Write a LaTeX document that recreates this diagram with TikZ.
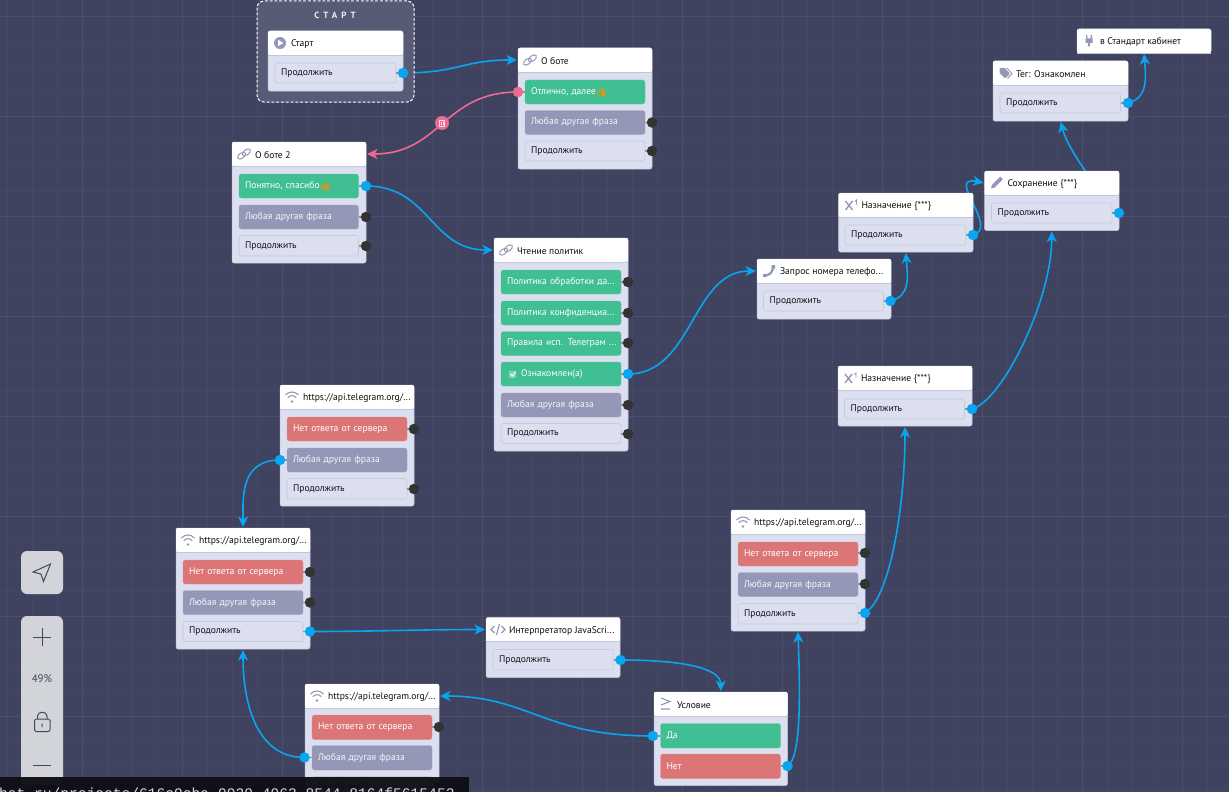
\documentclass[tikz,border=0pt]{standalone}
\usepackage{fontspec}
\setmainfont{PT Sans}
\newfontfamily\emofont[FakeBold=3]{Noto Emoji}
\newfontfamily\barfont{Liberation Mono}
\usetikzlibrary{arrows.meta,shapes.geometric,backgrounds}
\pgfdeclarelayer{gridlayer}\pgfdeclarelayer{conn}\pgfdeclarelayer{toplayer}
\pgfsetlayers{gridlayer,conn,main,toplayer}
\definecolor{bgc}{HTML}{3F4360}
\definecolor{minorc}{HTML}{444865}
\definecolor{majorc}{HTML}{4B4F6C}
\definecolor{bodyc}{HTML}{DCDFEF}
\definecolor{linec}{HTML}{C3C6DA}
\definecolor{greenc}{HTML}{3FBF92}
\definecolor{greyc}{HTML}{9497B5}
\definecolor{redc}{HTML}{DC7676}
\definecolor{bluec}{HTML}{0AA5F0}
\definecolor{pinkc}{HTML}{EE6A95}
\definecolor{icoc}{HTML}{9498B8}
\definecolor{tbc}{HTML}{D3D4D9}
\definecolor{tbdark}{HTML}{44475A}
\tikzset{
 x=1pt,y=-1pt,
 every node/.style={inner sep=0pt,outer sep=0pt},
 bodybox/.style={rectangle,fill=bodyc,draw=linec,line width=.5pt,rounded corners=2pt,anchor=north west},
 headbox/.style={rectangle,fill=white,rounded corners=2pt,anchor=north west,minimum height=24pt},
 ttl/.style={font=\fontsize{9.6}{11}\selectfont,text=black!95,anchor=west},
 anybtn/.style={rectangle,rounded corners=2.5pt,anchor=north west,inner xsep=6pt,align=left,font=\fontsize{9.6}{11}\selectfont},
 gbtn/.style={anybtn,fill=greenc,draw=greenc!85!white,text=white},
 gybtn/.style={anybtn,fill=greyc,draw=greyc!85!white,text=white!92!greyc},
 rbtn/.style={anybtn,fill=redc,draw=redc!85!white,text=white},
 wbtn/.style={anybtn,fill=bodyc,draw=linec!85!bodyc,line width=.6pt,text=black!92},
 bp/.style={circle,fill=bluec,minimum size=10.5pt},
 kp/.style={circle,fill=black!80,minimum size=10.5pt},
 pp/.style={circle,fill=pinkc,minimum size=10.5pt},
 stub/.style={draw=black!35!bodyc,line width=1.4pt},
 wire/.style={draw=bluec,line width=1.6pt,-{Stealth[length=10.5pt,width=10pt,inset=3pt]},shorten >=1pt},
 pinkwire/.style={wire,draw=pinkc},
 ico/.style={draw=icoc,line width=1.1pt,fill=none},
 tool/.style={rectangle,fill=tbc,rounded corners=6pt,anchor=north west},
 tbl/.style={draw=tbdark,line width=1pt},
}
\newcommand\blk[7]{% name,x,y,w,h,icon,title
 \node[bodybox,minimum width=#4pt,minimum height=#5pt] (#1) at (#2,#3) {};
 \node[headbox,minimum width=#4pt] (#1h) at (#2,#3) {};
 \draw[linec,line width=.7pt] (#1h.south west) -- (#1h.south east);
 \begin{scope}[shift={(#2+12,#3+12)}]#6\end{scope}
 \node[ttl] (#1t) at ([xshift=23pt,yshift=-1.2pt]#1h.west) {#7};
}
\newcommand\btn[7]{% name,x,y,w,h,style,text
 \node[#6,text width=#4pt-12pt,minimum height=#5pt] (#1) at (#2,#3) {\raisebox{-1.2pt}{#7}};
}
\newcommand\portR[4]{\draw[stub] (#2-7,#3) -- (#2,#3); \node[#4] (#1) at (#2,#3) {};}
\newcommand\portL[4]{\draw[stub] (#2,#3) -- (#2+7,#3); \node[#4] (#1) at (#2,#3) {};}
\newcommand\emo{\textcolor{orange!90!yellow}{\emofont\fontsize{8.5}{9}\selectfont 👍}}
% icons
\newcommand\icoLink{\draw[ico,line width=1pt,rotate=35] (-3,0) ellipse (4.6 and 2.6); \draw[ico,line width=1pt,rotate=35] (3,0) ellipse (4.6 and 2.6);}
\newcommand\icoPlay{\fill[icoc] (0,0) circle (6); \fill[white] (-2,-3.2) -- (3.4,0) -- (-2,3.2) -- cycle;}
\newcommand\icoWifi{\draw[ico] (-6.5,-2) .. controls (-3,-6) and (3,-6) .. (6.5,-2); \draw[ico] (-4.2,0.6) .. controls (-2,-2) and (2,-2) .. (4.2,0.6); \fill[icoc] (0,4.5) circle (1.3);}
\newcommand\icoPhone{\draw[icoc,line width=2.2pt,line cap=round] (4,-4.5) .. controls (4,1) and (1,4) .. (-4,4.5); \fill[icoc] (2.5,-6) rectangle (6,-2.5) (-6,3) rectangle (-2.5,6);}
\newcommand\icoX{\draw[ico,line width=1.4pt] (-5,-4) -- (2,5) (2,-4) -- (-5,5); \draw[ico,line width=.9pt] (4.5,-3.5) -- (6,-5) -- (6,-0.5);}
\newcommand\icoPen{\draw[icoc,line width=3.6pt] (5,-5) -- (-3,3); \fill[icoc] (-4.5,1.5) -- (-1.5,4.5) -- (-5.5,5.5) -- cycle;}
\newcommand\icoTag{\fill[icoc,rounded corners=1pt] (-5.5,-5) -- (0,-5) -- (5,1) -- (0,5.5) -- (-5.5,0) -- cycle; \draw[icoc,line width=.9pt] (2,-5) -- (7,1) -- (2.5,5.5);}
\newcommand\icoPlug{\fill[icoc] (-3.5,-2.5) rectangle (3.5,2) (-1,2) rectangle (1,5.5) (-3,-6) rectangle (-1.6,-2.5) (1.6,-6) rectangle (3,-2.5);}
\newcommand\icoCode{\draw[ico] (-3.5,-3.5) -- (-7,0) -- (-3.5,3.5) (3.5,-3.5) -- (7,0) -- (3.5,3.5) (1.5,-5.5) -- (-1.5,5.5);}
\newcommand\icoGe{\draw[ico] (-5,-6) -- (4,-2.5) -- (-5,1) (-5,5) -- (4,5);}
\begin{document}
\begin{tikzpicture}
\useasboundingbox (0,0) rectangle (1229,792);
\begin{pgfonlayer}{gridlayer}
 \fill[bgc] (0,0) rectangle (1229,792);
 \foreach \i in {0,...,49}{\draw[minorc,line width=.6pt] (7.7+25*\i,0) -- (7.7+25*\i,792);}
 \foreach \i in {0,...,32}{\draw[minorc,line width=.6pt] (0,16.3+25*\i) -- (1229,16.3+25*\i);}
 \foreach \i in {0,...,11}{\draw[majorc,line width=.7pt] (82.7+100*\i,0) -- (82.7+100*\i,792);}
 \foreach \i in {0,...,7}{\draw[majorc,line width=.7pt] (0,16.3+100*\i) -- (1229,16.3+100*\i);}
\end{pgfonlayer}
% start group
\node[rectangle,rounded corners=7pt,fill=white!13!bgc,draw=white,dash pattern=on 3pt off 1.8pt,line width=1pt,anchor=north west,minimum width=157pt,minimum height=101pt] (grp) at (257,1) {};
\node[font=\fontsize{9}{10}\selectfont\bfseries\addfontfeature{LetterSpace=45},text=white!92!bgc] (grpt) at (335,15.5) {СТАРТ};
% blocks
\blk{st}{268}{31}{135}{60}{\icoPlay}{Старт}
\btn{stb}{275}{63}{121}{20}{wbtn}{Продолжить}
\portR{stp}{403}{73}{bp}

\blk{ob}{518}{48}{134}{121}{\icoLink}{О боте}
\btn{ob1}{525}{80}{120}{24}{gbtn}{Отлично, далее\emo}
\btn{ob2}{525}{110.5}{120}{24}{gybtn}{Любая другая фраза}
\btn{ob3}{525}{141}{120}{20}{wbtn}{Продолжить}
\portL{obp1}{518}{92}{pp}
\portR{obp2}{652}{122.5}{kp}
\portR{obp3}{652}{151}{kp}

\blk{oc}{232}{142}{134}{121}{\icoLink}{О боте 2}
\btn{oc1}{239}{174}{119.5}{24}{gbtn}{Понятно, спасибо\emo}
\btn{oc2}{239}{205}{119.5}{24}{gybtn}{Любая другая фраза}
\btn{oc3}{239}{235.5}{119.5}{20.5}{wbtn}{Продолжить}
\portR{ocp1}{366}{186}{bp}
\portR{ocp2}{366}{217}{kp}
\portR{ocp3}{366}{246}{kp}

\blk{ch}{494}{238}{134}{213}{\icoLink}{Чтение политик}
\btn{ch1}{501}{270}{120}{24}{gbtn}{Политика обработки да...}
\btn{ch2}{501}{301}{120}{24}{gbtn}{Политика конфиденциа...}
\btn{ch3}{501}{331.5}{120}{24}{gbtn}{Правила исп. Телеграм ...}
\btn{ch4}{501}{362}{120}{24}{gbtn}{\hspace*{14pt}Ознакомлен(а)}
\btn{ch5}{501}{393}{120}{24}{gybtn}{Любая другая фраза}
\btn{ch6}{501}{423.5}{120}{20}{wbtn}{Продолжить}
\node[rectangle,fill=white!35!greenc,minimum size=7pt] (chk) at (512.5,374) {};
\draw[white,line width=.9pt] (chk.west) ++(1.5,0) -- ++(2,2) -- ++(3,-4);
\portR{chp1}{628}{282}{kp}
\portR{chp2}{628}{313}{kp}
\portR{chp3}{628}{343}{kp}
\portR{chp4}{628}{374}{bp}
\portR{chp5}{628}{405}{kp}
\portR{chp6}{628}{434}{kp}

\blk{zp}{757}{259}{134}{60}{\icoPhone}{Запрос номера телефо...}
\btn{zpb}{763.5}{291}{120}{20}{wbtn}{Продолжить}
\portR{zpp}{890.5}{301}{bp}

\blk{na}{838.5}{193}{134.5}{59}{\icoX}{Назначение \{***\}}
\btn{nab}{845}{225}{121}{20}{wbtn}{Продолжить}
\portR{nap}{973}{235}{bp}

\blk{sv}{984.5}{171}{134.5}{59.5}{\icoPen}{Сохранение \{***\}}
\btn{svb}{991.5}{203}{120.5}{20}{wbtn}{Продолжить}
\portR{svp}{1119}{213}{bp}

\blk{tg}{993}{61}{135}{60}{\icoTag}{Тег: Ознакомлен}
\btn{tgb}{1000}{93}{120.5}{20}{wbtn}{Продолжить}
\portR{tgp}{1128}{103}{bp}

\blk{kb}{1077}{29}{134}{24}{\icoPlug}{в Стандарт кабинет}

\blk{nb}{838}{366}{134}{60}{\icoX}{Назначение \{***\}}
\btn{nbb}{844.5}{399}{120}{20}{wbtn}{Продолжить}
\portR{nbp}{972}{409}{bp}

\blk{at}{280}{385}{134}{121}{\icoWifi}{https://api.telegram.org/...}
\btn{at1}{287}{417}{120}{24}{rbtn}{Нет ответа от сервера}
\btn{at2}{287}{448}{120}{24}{gybtn}{Любая другая фраза}
\btn{at3}{287}{478.5}{120}{20.5}{wbtn}{Продолжить}
\portR{atp1}{414}{429}{kp}
\portL{atp2}{280}{460}{bp}
\portR{atp3}{414}{489}{kp}

\blk{al}{176}{528}{134}{121}{\icoWifi}{https://api.telegram.org/...}
\btn{al1}{183}{560}{120}{24}{rbtn}{Нет ответа от сервера}
\btn{al2}{183}{590.5}{120}{24}{gybtn}{Любая другая фраза}
\btn{al3}{183}{621.5}{120}{20}{wbtn}{Продолжить}
\portR{alp1}{310}{572}{kp}
\portR{alp2}{310}{602.5}{kp}
\portR{alp3}{310}{631.5}{bp}

\blk{js}{486}{617.5}{134}{60}{\icoCode}{Интерпретатор JavaScri...}
\btn{jsb}{493}{649.5}{120}{20.5}{wbtn}{Продолжить}
\portR{jsp}{620.5}{660}{bp}

\blk{us}{654}{692}{133.5}{93.5}{\icoGe}{Условие}
\btn{us1}{660.5}{723.5}{120}{24.5}{gbtn}{Да}
\btn{us2}{660.5}{754}{120}{24.5}{rbtn}{Нет}
\portL{usp1}{653}{736}{bp}
\portR{usp2}{787.5}{766}{bp}

\blk{ar}{731}{510}{134}{121}{\icoWifi}{https://api.telegram.org/...}
\btn{ar1}{738}{542}{120}{24}{rbtn}{Нет ответа от сервера}
\btn{ar2}{738}{572.5}{120}{24}{gybtn}{Любая другая фраза}
\btn{ar3}{738}{603.5}{120}{20.5}{wbtn}{Продолжить}
\portR{arp1}{865}{553}{kp}
\portR{arp2}{865}{584}{kp}
\portR{arp3}{865}{613}{bp}

\blk{ab}{305}{684}{134}{121}{\icoWifi}{https://api.telegram.org/...}
\btn{ab1}{312}{715}{120}{24.5}{rbtn}{Нет ответа от сервера}
\btn{ab2}{312}{745.5}{120}{24.5}{gybtn}{Любая другая фраза}
\btn{ab3}{312}{776.5}{120}{20}{wbtn}{Продолжить}
\portR{abp1}{439}{727}{kp}
\portL{abp2}{304.5}{757.5}{bp}
\portR{abp3}{439}{787}{kp}

% connectors
\begin{pgfonlayer}{conn}
 \draw[wire] (stp.center) .. controls +(55,0) and +(-55,0) .. (obh.west);
 \draw[pinkwire] (obp1.center) .. controls +(-75,0) and +(75,0) .. node[circle,fill=pinkc,minimum size=14pt,pos=.5] (del) {} (och.east);
 \draw[wire] (ocp1.center) .. controls +(64,0) and +(-64,0) .. (chh.west);
 \draw[wire] (chp4.center) .. controls +(65,0) and +(-65,0) .. (zph.west);
 \draw[wire] (zpp.center) .. controls +(20,-5) and +(2,25) .. (na.south);
 \draw[wire] (nap.center) .. controls +(27,-7) and +(-40,-8) .. (svh.west);
 \draw[wire] (svp.center) .. controls +(-9,-8) and +(8,32) .. (tg.south);
 \draw[wire] (tgp.center) .. controls +(20,-5) and +(2,25) .. (kb.south);
 \draw[wire] (nbp.center) .. controls +(30,-8) and +(0,70) .. (sv.south);
 \draw[wire] (arp3.center) .. controls +(25,-15) and +(0,80) .. (nb.south);
 \draw[wire] (alp3.center) .. controls +(60,0) and +(-60,0) .. (jsh.west);
 \draw[wire] (jsp.center) .. controls +(70,0) and +(0,-22) .. (ush.north);
 \draw[wire] (usp1.center) .. controls +(-110,0) and +(90,0) .. (abh.east);
 \draw[wire] (usp2.center) .. controls +(14,-8) and +(2,60) .. (ar.south);
 \draw[wire] (atp2.center) .. controls +(-40,0) and +(0,-30) .. (al.north);
 \draw[wire] (abp2.center) .. controls +(-50,0) and +(0,50) .. (al.south);
 \begin{scope}[shift={(del.center)}]
  \draw[white!75!pinkc,line width=.7pt] (-2.6,-2.2) rectangle (2.6,3.6) (-3.4,-2.8) -- (3.4,-2.8) (-.9,-.8) -- (-.9,2) (.9,-.8) -- (.9,2);
 \end{scope}
\end{pgfonlayer}
% toolbar
\node[tool,minimum width=42pt,minimum height=43pt] (tb1) at (21,551) {};
\draw[tbl,line join=miter] (50.5,564) -- (33,572) -- (41,574) -- (43.5,581.5) -- cycle;
\node[tool,minimum width=42pt,minimum height=169pt] (tb2) at (21,616) {};
\draw[tbl] (33,637) -- (51,637) (42,628) -- (42,646);
\draw[draw=white!60!greenc!40!tbc,line width=.7pt] (21,658.5) -- (63,658.5) (21,700.5) -- (63,700.5) (21,743) -- (63,743);
\node[font=\fontsize{11}{13}\selectfont,text=tbdark] (zoomv) at (42,679) {49\%};
\draw[tbl,rounded corners=1.5pt] (34.5,719) rectangle (50,731.5);
\draw[tbl] (37.5,719) -- (37.5,716) .. controls (37.5,711) and (47,711) .. (47,716) -- (47,719) (42,723.5) -- (42,727);
\draw[tbl] (33,765) -- (51,765);
\begin{pgfonlayer}{toplayer}
 \node[rectangle,fill=black!78!bgc,opacity=.96,anchor=north west,minimum width=469pt,minimum height=16pt] (bar) at (0,777) {};
 \node[anchor=base west,font=\barfont\fontsize{14.6}{17}\selectfont,text=white!85!black] (url) at (-1,798) {hat.ru/projects/616c9cba-9939-4963-8544-8164f5615452};
\end{pgfonlayer}
\end{tikzpicture}
\end{document}
